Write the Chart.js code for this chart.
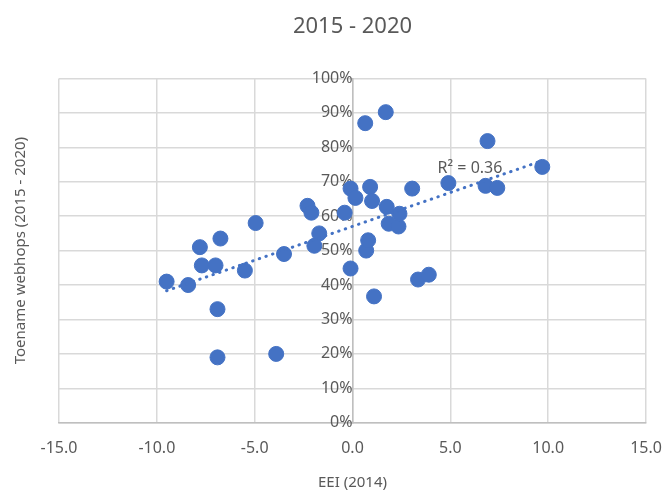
<!DOCTYPE html>
<html>
<head>
<meta charset="utf-8">
<script src="https://cdn.jsdelivr.net/npm/chart.js@4/dist/chart.umd.min.js"></script>
<style>
  html, body { margin: 0; padding: 0; background: #fff; }
  #wrap { width: 663px; height: 494px; }
</style>
</head>
<body>
<div id="wrap"><canvas id="scatterChart"></canvas></div>
<script>
// EEI (2014) per shop
const eeiValues = [-9.5, -8.4, -7.8, -7.7, -7.0, -6.75, -6.9, -6.9, -5.5, -4.95,
    -3.9, -3.5, -2.3, -2.1, -1.7, -1.95, -0.4, -0.1, -0.1, 0.15,
    0.65, 0.7, 0.8, 0.9, 1.0, 1.1, 1.7, 1.75, 1.85, 2.35,
    2.4, 3.05, 3.35, 3.9, 4.9, 6.8, 6.9, 7.4, 9.7];
// Toename webhops (2015 - 2020), in %
const growthValues = [41, 40, 51, 45.7, 45.7, 53.5, 33, 19, 44.2, 58,
    20, 49, 63, 61, 55, 51.4, 61, 68, 44.8, 65.3,
    87, 50, 53, 68.5, 64.4, 36.7, 90.2, 62.7, 57.8, 57,
    60.7, 68, 41.6, 43, 69.6, 68.8, 81.8, 68.2, 74.3];
const xTicks = [-15, -10, -5, 0, 5, 10, 15];
const yTicks = [0, 10, 20, 30, 40, 50, 60, 70, 80, 90, 100];
const rSquaredLabel = 'R² = 0.36';

const points = eeiValues.map((x, i) => ({ x: x, y: growthValues[i] }));

// Linear trendline (least squares), drawn over the data range
const n = points.length;
const meanX = eeiValues.reduce((a, b) => a + b, 0) / n;
const meanY = growthValues.reduce((a, b) => a + b, 0) / n;
let sxy = 0, sxx = 0;
points.forEach(p => { sxy += (p.x - meanX) * (p.y - meanY); sxx += (p.x - meanX) * (p.x - meanX); });
const slope = sxy / sxx;
const intercept = meanY - slope * meanX;
const minX = Math.min(...eeiValues), maxX = Math.max(...eeiValues);
const trendPoints = [
    { x: minX, y: intercept + slope * minX },
    { x: maxX, y: intercept + slope * maxX }
];

const labelColor = '#595959';
const fontFamily = "'Noto Sans', 'Liberation Sans', sans-serif";

// R² label next to the end of the trendline
const rSquaredPlugin = {
    id: 'rSquared',
    afterDatasetsDraw(chart) {
        const { ctx, scales } = chart;
        ctx.save();
        ctx.font = '16px ' + fontFamily;
        ctx.fillStyle = labelColor;
        ctx.textBaseline = 'middle';
        ctx.fillText(rSquaredLabel, scales.x.getPixelForValue(4.35), scales.y.getPixelForValue(74));
        ctx.restore();
    }
};

const ctx = document.getElementById('scatterChart').getContext('2d');
new Chart(ctx, {
    type: 'scatter',
    data: {
        datasets: [{
            label: 'Shops',
            data: points,
            backgroundColor: '#4472C4',
            borderColor: '#4472C4',
            pointRadius: 7.5,
            pointHoverRadius: 7.5,
            order: 2
        }, {
            type: 'line',
            label: 'Trend',
            data: trendPoints,
            borderColor: '#4472C4',
            borderWidth: 3,
            borderDash: [0.5, 6.5],
            borderCapStyle: 'round',
            pointRadius: 0,
            fill: false,
            order: 1
        }]
    },
    options: {
        responsive: true,
        maintainAspectRatio: false,
        animation: false,
        layout: { padding: { top: 4, right: 17, left: 12, bottom: 2 } },
        scales: {
            x: {
                type: 'linear',
                min: -15,
                max: 15,
                afterBuildTicks: (axis) => { axis.ticks = xTicks.map(v => ({ value: v })); },
                afterFit: (axis) => { axis.paddingRight = 0; },
                grid: { color: '#d9d9d9', lineWidth: 1.5, drawTicks: false },
                border: { color: '#bfbfbf', width: 1.5 },
                ticks: {
                    padding: 16,
                    color: labelColor,
                    font: { family: fontFamily, size: 16 },
                    callback: (v) => Number(v).toFixed(1)
                },
                title: {
                    display: true,
                    text: 'EEI (2014)',
                    color: labelColor,
                    font: { family: fontFamily, size: 15 },
                    padding: { top: 0, bottom: 0 }
                }
            },
            y: {
                type: 'linear',
                position: { x: 0 },
                min: 0,
                max: 100,
                afterBuildTicks: (axis) => { axis.ticks = yTicks.map(v => ({ value: v })); },
                grid: { color: '#d9d9d9', lineWidth: 1.5, drawTicks: false },
                border: { color: '#bfbfbf', width: 1.5 },
                ticks: {
                    padding: 18,
                    color: labelColor,
                    font: { family: fontFamily, size: 16 },
                    callback: (v) => v + '%'
                }
            },
            yTitle: {
                type: 'linear',
                position: 'left',
                min: 0,
                max: 100,
                grid: { display: false, drawTicks: false },
                border: { display: false },
                ticks: { display: false },
                title: {
                    display: true,
                    text: 'Toename webhops (2015 - 2020)',
                    color: labelColor,
                    font: { family: fontFamily, size: 15 },
                    padding: { top: 0, bottom: 29 }
                }
            }
        },
        plugins: {
            legend: { display: false },
            tooltip: { enabled: false },
            title: {
                display: true,
                text: '2015 - 2020',
                fullSize: false,
                color: labelColor,
                font: { family: fontFamily, size: 22, weight: 'normal' },
                padding: { top: 10, bottom: 38 }
            }
        }
    },
    plugins: [rSquaredPlugin]
});
</script>
</body>
</html>
